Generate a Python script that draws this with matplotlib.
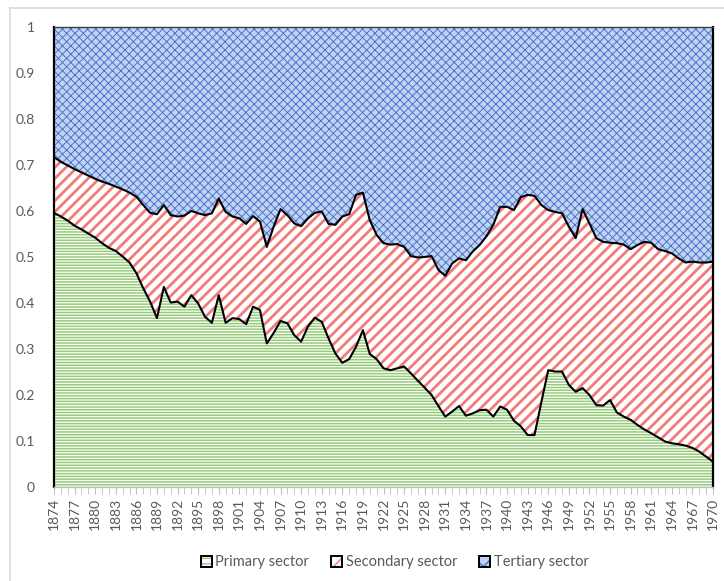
import numpy as np
import matplotlib
matplotlib.use("Agg")
import matplotlib.pyplot as plt
from matplotlib.patches import Patch
from matplotlib.lines import Line2D

plt.rcParams['font.family'] = ['Lato', 'DejaVu Sans']

years = np.arange(1874, 1971)

primary = [
    0.596, 0.588, 0.579, 0.568, 0.560, 0.551, 0.542, 0.530, 0.520, 0.513,   # 1874-1883
    0.501, 0.488, 0.465, 0.432, 0.403, 0.367, 0.435, 0.401, 0.403, 0.392,   # 1884-1893
    0.417, 0.399, 0.370, 0.357, 0.417, 0.357, 0.367, 0.365, 0.354, 0.392,   # 1894-1903
    0.385, 0.312, 0.335, 0.361, 0.356, 0.330, 0.316, 0.349, 0.368, 0.359,   # 1904-1913
    0.323, 0.290, 0.270, 0.278, 0.305, 0.341, 0.289, 0.278, 0.258, 0.254,   # 1914-1923
    0.258, 0.262, 0.247, 0.231, 0.216, 0.200, 0.176, 0.153, 0.164, 0.176,   # 1924-1933
    0.155, 0.160, 0.167, 0.168, 0.153, 0.175, 0.168, 0.144, 0.132, 0.113,   # 1934-1943
    0.113, 0.185, 0.254, 0.251, 0.251, 0.222, 0.207, 0.215, 0.200, 0.178,   # 1944-1953
    0.177, 0.189, 0.162, 0.153, 0.146, 0.135, 0.125, 0.117, 0.108, 0.099,   # 1954-1963
    0.095, 0.093, 0.090, 0.085, 0.077, 0.066, 0.055,                        # 1964-1970
]

secondary = [
    0.121, 0.119, 0.120, 0.123, 0.124, 0.126, 0.128, 0.134, 0.139, 0.140,
    0.146, 0.152, 0.166, 0.181, 0.193, 0.226, 0.178, 0.190, 0.185, 0.198,
    0.183, 0.196, 0.221, 0.238, 0.210, 0.241, 0.221, 0.219, 0.218, 0.197,
    0.192, 0.210, 0.231, 0.243, 0.235, 0.243, 0.251, 0.235, 0.228, 0.240,
    0.249, 0.280, 0.318, 0.315, 0.330, 0.299, 0.291, 0.270, 0.272, 0.273,
    0.270, 0.260, 0.255, 0.268, 0.284, 0.302, 0.296, 0.306, 0.322, 0.321,
    0.338, 0.352, 0.359, 0.377, 0.417, 0.434, 0.441, 0.458, 0.498, 0.522,
    0.520, 0.428, 0.348, 0.347, 0.344, 0.344, 0.334, 0.389, 0.373, 0.363,
    0.356, 0.342, 0.368, 0.374, 0.371, 0.391, 0.408, 0.414, 0.409, 0.414,
    0.413, 0.404, 0.398, 0.405, 0.411, 0.422, 0.435,
]

tertiary = [
    0.283, 0.293, 0.301, 0.309, 0.316, 0.323, 0.330, 0.336, 0.341, 0.347,
    0.353, 0.360, 0.369, 0.387, 0.404, 0.407, 0.387, 0.409, 0.412, 0.410,
    0.400, 0.405, 0.409, 0.405, 0.373, 0.402, 0.412, 0.416, 0.428, 0.411,
    0.423, 0.478, 0.434, 0.396, 0.409, 0.427, 0.433, 0.416, 0.404, 0.401,
    0.428, 0.430, 0.412, 0.407, 0.365, 0.360, 0.420, 0.452, 0.470, 0.473,
    0.472, 0.478, 0.498, 0.501, 0.500, 0.498, 0.528, 0.541, 0.514, 0.503,
    0.507, 0.488, 0.474, 0.455, 0.430, 0.391, 0.391, 0.398, 0.370, 0.365,
    0.367, 0.387, 0.398, 0.402, 0.405, 0.434, 0.459, 0.396, 0.427, 0.459,
    0.467, 0.469, 0.470, 0.473, 0.483, 0.474, 0.467, 0.469, 0.483, 0.487,
    0.492, 0.503, 0.512, 0.510, 0.512, 0.512, 0.510,
]

series_names = ["Primary sector", "Secondary sector", "Tertiary sector"]
y_ticks = [0, 0.1, 0.2, 0.3, 0.4, 0.5, 0.6, 0.7, 0.8, 0.9, 1]
y_tick_labels = ["0", "0.1", "0.2", "0.3", "0.4", "0.5", "0.6", "0.7", "0.8", "0.9", "1"]

p = np.array(primary)
s = np.array(secondary)
t = np.array(tertiary)
c1 = p
c2 = p + s
c3 = c2 + t

GREEN = '#96cc78'
RED = '#f47a7a'
BLUE = '#4470cc'
BLUE_FACE = '#c2d2f1'
GRAY_TXT = '#595959'

fig = plt.figure(figsize=(7.24, 5.81), dpi=100)
ax = fig.add_axes([54/724, 1 - 487/581, (713-54)/724, (487-27)/581])

def hatched(axx, x, lo, hi, hatch, color, lw, face='white'):
    with plt.rc_context({'hatch.linewidth': lw, 'hatch.color': color}):
        coll = axx.fill_between(x, lo, hi, facecolor=face, edgecolor=color,
                                hatch=hatch, linewidth=0, zorder=1)
        if hasattr(coll, 'set_hatch_linewidth'):
            coll.set_hatch_linewidth(lw)
    return coll

specs = [('------', GREEN, 1.1, 'white'),
         ('///', RED, 2.0, 'white'),
         ('xxxx', BLUE, 0.65, BLUE_FACE)]

hatched(ax, years, 0, c1, *specs[0])
hatched(ax, years, c1, c2, *specs[1])
hatched(ax, years, c2, c3, *specs[2])

ax.plot(years, c1, color='black', lw=1.5, zorder=3)
ax.plot(years, c2, color='black', lw=1.5, zorder=3)

ax.set_xlim(1874, 1970)
ax.set_ylim(0, 1)

ax.set_yticks(y_ticks)
ax.set_yticklabels(y_tick_labels)
ax.tick_params(axis='y', length=0, pad=14, labelsize=10, labelcolor=GRAY_TXT)

major_years = years[::3]
ax.set_xticks(major_years)
ax.set_xticklabels([str(y) for y in major_years], rotation=90)
ax.set_xticks(years, minor=True)
ax.tick_params(axis='x', which='both', direction='out', length=5, color='#bfbfbf',
               labelsize=10, labelcolor=GRAY_TXT, pad=3)

for side in ['left', 'right']:
    ax.spines[side].set_color('black')
    ax.spines[side].set_linewidth(1.6)
ax.spines['top'].set_color('#404040')
ax.spines['top'].set_linewidth(1.0)
ax.spines['bottom'].set_color('#bfbfbf')
ax.spines['bottom'].set_linewidth(1.0)
for sp in ax.spines.values():
    sp.set_zorder(4)

# legend: hatched fill with a black border drawn on top
handles = []
for (h, col, lw, face), name in zip(specs, series_names):
    with plt.rc_context({'hatch.linewidth': lw * 0.6, 'hatch.color': col}):
        fill = Patch(facecolor=face, edgecolor=col, hatch=h[:max(1, len(h)//2)], linewidth=0)
    border = Patch(facecolor='none', edgecolor='black', linewidth=1.4)
    handles.append((fill, border))
leg = fig.legend(handles=handles, labels=series_names, loc='center',
                 bbox_to_anchor=(0.545, 0.032), ncol=3,
                 frameon=False, fontsize=10.5, handlelength=0.75, handleheight=0.75,
                 handletextpad=0.25, columnspacing=1.5, labelcolor=GRAY_TXT)

# chart-area border (Excel style)
fig.add_artist(Line2D([10/724, 10/724], [0, 1 - 8/581], transform=fig.transFigure,
                      color='#d9d9d9', lw=1.2))
fig.add_artist(Line2D([10/724, 1], [1 - 8/581, 1 - 8/581], transform=fig.transFigure,
                      color='#d9d9d9', lw=1.2))

fig.savefig('out.png', dpi=100)
